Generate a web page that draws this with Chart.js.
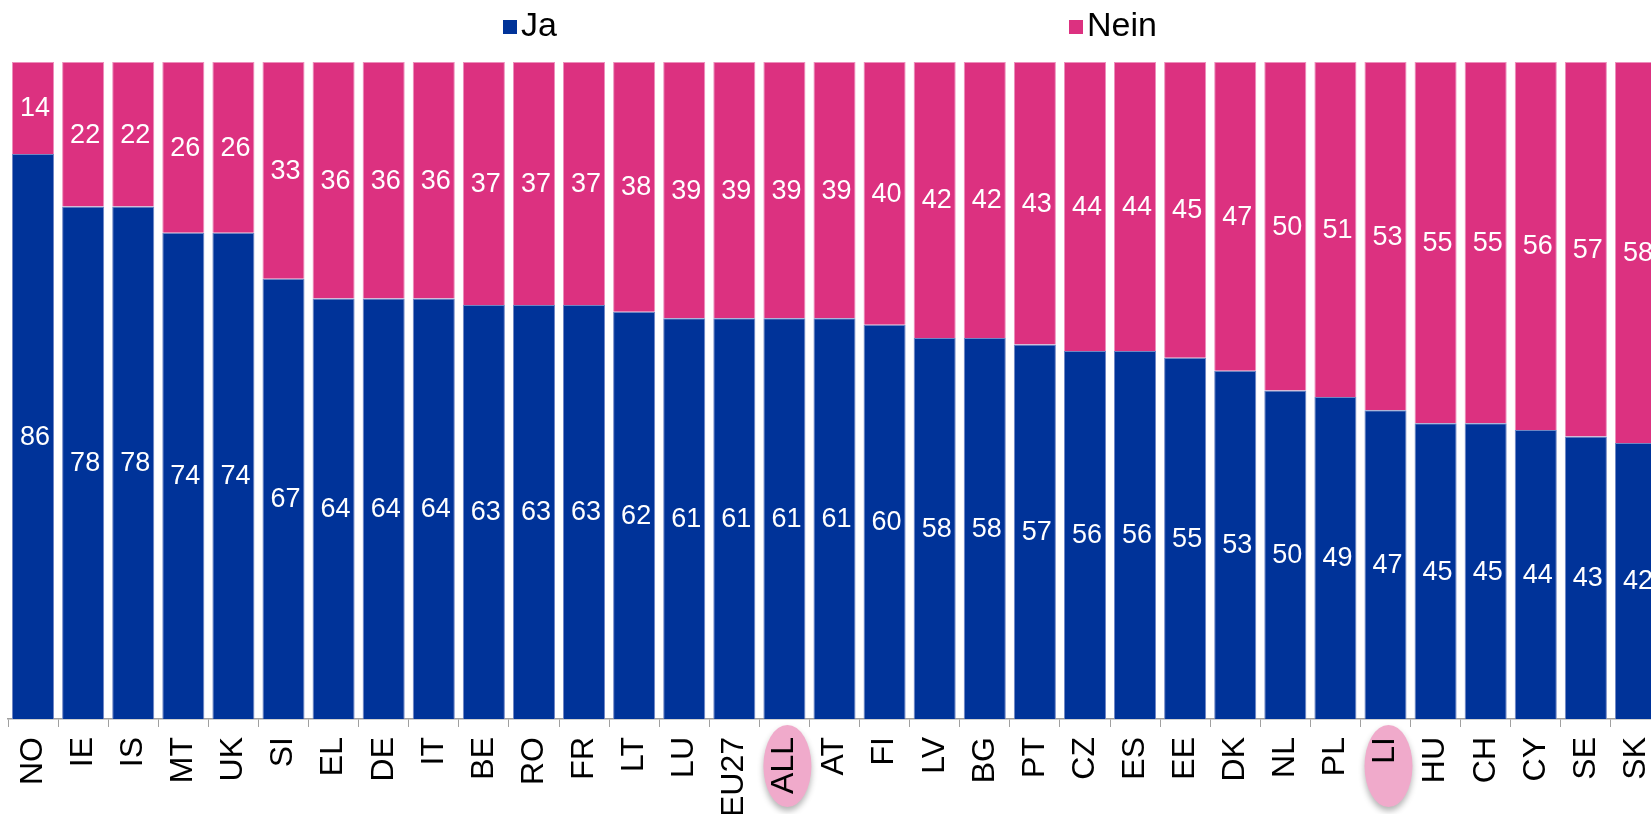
<!DOCTYPE html>
<html lang="de">
<head>
    <meta charset="UTF-8">
    <title>Ja / Nein nach Land</title>
    <script src="https://cdn.jsdelivr.net/npm/chart.js"></script>
    <style>
        html, body {
            margin: 0;
            padding: 0;
            overflow: hidden;
            background: #fff;
            font-family: "Liberation Sans", Arial, sans-serif;
        }
        /* the original picture is cut off on the right, so the canvas is wider than the frame */
        .wrap {
            position: relative;
            width: 1651px;
            height: 814px;
            overflow: hidden;
        }
        .wrap canvas {
            display: block;
        }
        .legend {
            position: absolute;
            top: 5px;
            left: 503px;
            display: flex;
            gap: 512px;
            font-size: 34px;
            line-height: 38px;
            color: #000;
        }
        .legend span.box {
            display: inline-block;
            width: 14px;
            height: 14px;
            margin-right: 4px;
            vertical-align: 2px;
        }
    </style>
</head>
<body>
    <div class="wrap">
        <div class="legend" id="legend"></div>
        <canvas id="chart" width="1670" height="814"></canvas>
    </div>

    <script>
        // data
        const countries = ['NO', 'IE', 'IS', 'MT', 'UK', 'SI', 'EL', 'DE', 'IT', 'BE', 'RO', 'FR', 'LT', 'LU', 'EU27', 'ALL',
            'AT', 'FI', 'LV', 'BG', 'PT', 'CZ', 'ES', 'EE', 'DK', 'NL', 'PL', 'LI', 'HU', 'CH', 'CY', 'SE', 'SK'];
        const jaValues = [86, 78, 78, 74, 74, 67, 64, 64, 64, 63, 63, 63, 62, 61, 61, 61,
            61, 60, 58, 58, 57, 56, 56, 55, 53, 50, 49, 47, 45, 45, 44, 43, 42];
        const neinValues = [14, 22, 22, 26, 26, 33, 36, 36, 36, 37, 37, 37, 38, 39, 39, 39,
            39, 40, 42, 42, 43, 44, 44, 45, 47, 50, 51, 53, 55, 55, 56, 57, 58];
        const highlighted = ['ALL', 'LI'];

        const BLUE = '#003399';
        const PINK = '#dc3180';

        // labels inside the bars
        const valueLabels = {
            id: 'valueLabels',
            afterDatasetsDraw(chart) {
                const ctx = chart.ctx;
                ctx.save();
                ctx.font = '27px "Liberation Sans", Arial, sans-serif';
                ctx.fillStyle = '#fff';
                ctx.textAlign = 'center';
                ctx.textBaseline = 'middle';
                chart.data.datasets.forEach((ds, i) => {
                    chart.getDatasetMeta(i).data.forEach((bar, j) => {
                        const p = bar.getProps(['x', 'y', 'base'], true);
                        ctx.fillText(ds.data[j], p.x + 2, (p.y + p.base) / 2 + 1);
                    });
                });
                ctx.restore();
            }
        };

        // pink ovals behind some axis labels
        const labelOvals = {
            id: 'labelOvals',
            beforeDraw(chart) {
                const ctx = chart.ctx;
                const xs = chart.scales.x;
                highlighted.forEach(code => {
                    const cx = xs.getPixelForValue(countries.indexOf(code));
                    ctx.save();
                    ctx.shadowColor = 'rgba(0,0,0,0.3)';
                    ctx.shadowBlur = 6;
                    ctx.shadowOffsetY = 4;
                    ctx.fillStyle = '#f0aacb';
                    ctx.beginPath();
                    ctx.ellipse(cx + 3, xs.top + 47, 24, 41, 0, 0, Math.PI * 2);
                    ctx.fill();
                    ctx.restore();
                });
            }
        };

        const chart = new Chart(document.getElementById('chart'), {
            type: 'bar',
            data: {
                labels: countries,
                datasets: [{
                    label: 'Ja',
                    data: jaValues,
                    backgroundColor: BLUE,
                    borderColor: '#6f86c4',
                    borderWidth: 1
                }, {
                    label: 'Nein',
                    data: neinValues,
                    backgroundColor: PINK,
                    borderColor: '#ec8fbb',
                    borderWidth: 1
                }]
            },
            options: {
                responsive: false,
                animation: false,
                layout: {
                    padding: { left: 8, right: 9, top: 62, bottom: 0 }
                },
                datasets: {
                    bar: {
                        categoryPercentage: 1,
                        barPercentage: 0.84
                    }
                },
                plugins: {
                    legend: { display: false },
                    tooltip: { enabled: false }
                },
                scales: {
                    x: {
                        stacked: true,
                        grid: {
                            offset: true,
                            drawOnChartArea: false,
                            tickLength: 8,
                            color: '#a0a0a0'
                        },
                        border: { color: '#a0a0a0', width: 1.5 },
                        ticks: {
                            minRotation: 90,
                            maxRotation: 90,
                            padding: 10,
                            color: '#000',
                            font: { family: '"Liberation Sans", Arial, sans-serif', size: 32 }
                        },
                        afterFit(scale) {
                            scale.height = 95;
                            // no extra room for the rotated end labels
                            scale.paddingLeft = 0;
                            scale.paddingRight = 0;
                        }
                    },
                    y: {
                        stacked: true,
                        display: false,
                        min: 0,
                        max: 100
                    }
                }
            },
            plugins: [labelOvals, valueLabels]
        });

        // legend built from the datasets
        const legend = document.getElementById('legend');
        chart.data.datasets.forEach(ds => {
            const item = document.createElement('div');
            item.innerHTML = '<span class="box" style="background:' + ds.backgroundColor + '"></span>' + ds.label;
            legend.appendChild(item);
        });
    </script>
</body>
</html>
